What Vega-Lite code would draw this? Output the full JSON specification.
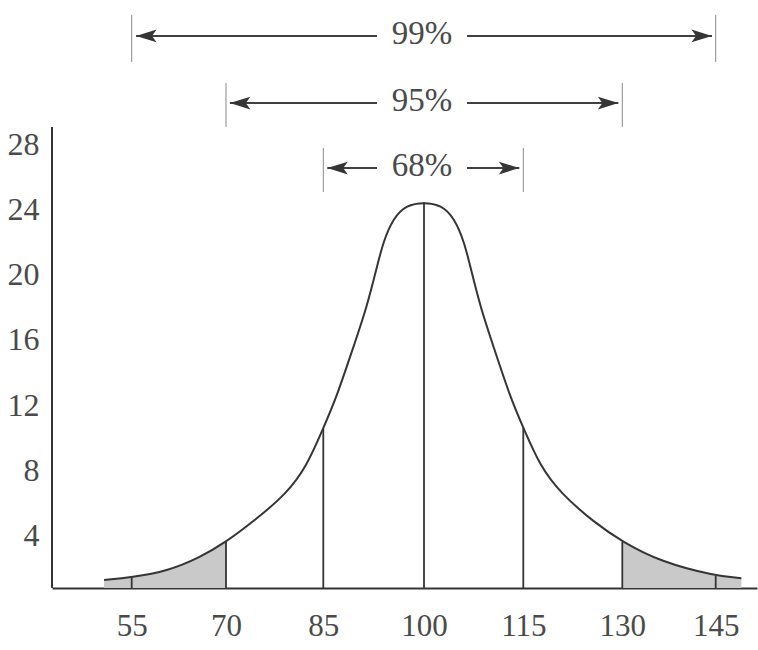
{
  "$schema": "https://vega.github.io/schema/vega-lite/v6.json",
  "width": 705,
  "height": 588,
  "autosize": {"type": "none"},
  "padding": {"left": 52, "top": 0, "right": 1, "bottom": 62},
  "background": "#ffffff",
  "config": {"view": {"stroke": null}, "font": "Liberation Serif"},
  "datasets": {
    "curve": [
      {"x": 50.6, "y": 1.23},
      {"x": 55, "y": 1.40},
      {"x": 60.6, "y": 1.76},
      {"x": 65.9, "y": 2.62},
      {"x": 70, "y": 3.57},
      {"x": 74.2, "y": 4.82},
      {"x": 79.4, "y": 6.57},
      {"x": 82.4, "y": 8.2},
      {"x": 85, "y": 10.57},
      {"x": 87.0, "y": 12.51},
      {"x": 89.5, "y": 15.59},
      {"x": 91.5, "y": 18.05},
      {"x": 93.0, "y": 20.51},
      {"x": 93.9, "y": 22.0},
      {"x": 95.4, "y": 23.49},
      {"x": 97.4, "y": 24.31},
      {"x": 100, "y": 24.47},
      {"x": 102.6, "y": 24.31},
      {"x": 104.6, "y": 23.49},
      {"x": 106.1, "y": 22.0},
      {"x": 107.0, "y": 20.51},
      {"x": 108.5, "y": 18.05},
      {"x": 110.5, "y": 15.59},
      {"x": 113.0, "y": 12.51},
      {"x": 115, "y": 10.6},
      {"x": 117.6, "y": 8.2},
      {"x": 120.6, "y": 6.6},
      {"x": 125.7, "y": 4.78},
      {"x": 130, "y": 3.59},
      {"x": 136.1, "y": 2.36},
      {"x": 145, "y": 1.48},
      {"x": 149.1, "y": 1.34}
    ],
    "cuts": [
      {"x": 55, "y": 1.40},
      {"x": 70, "y": 3.57},
      {"x": 85, "y": 10.57},
      {"x": 100, "y": 24.47},
      {"x": 115, "y": 10.6},
      {"x": 130, "y": 3.59},
      {"x": 145, "y": 1.48}
    ],
    "frame": [{"x": 42.3, "y": 29.1}],
    "spans": [
      {"x": 55, "top": 36.0, "bottom": 33.11},
      {"x": 145, "top": 36.0, "bottom": 33.11},
      {"x": 70, "top": 31.82, "bottom": 29.11},
      {"x": 130, "top": 31.82, "bottom": 29.11},
      {"x": 85, "top": 27.82, "bottom": 25.11},
      {"x": 115, "top": 27.82, "bottom": 25.11}
    ],
    "shafts": [
      {"x": 55.7, "x2": 93.0, "y": 34.71},
      {"x": 106.5, "x2": 144.4, "y": 34.71},
      {"x": 70.6, "x2": 93.0, "y": 30.58},
      {"x": 106.5, "x2": 129.4, "y": 30.58},
      {"x": 85.6, "x2": 93.0, "y": 26.58},
      {"x": 106.5, "x2": 114.4, "y": 26.58}
    ],
    "heads": [
      {"x": 55.7, "y": 34.71, "dir": "left"},
      {"x": 144.4, "y": 34.71, "dir": "right"},
      {"x": 70.6, "y": 30.58, "dir": "left"},
      {"x": 129.4, "y": 30.58, "dir": "right"},
      {"x": 85.6, "y": 26.58, "dir": "left"},
      {"x": 114.4, "y": 26.58, "dir": "right"}
    ],
    "labels": [
      {"x": 99.7, "y": 34.71, "label": "99%"},
      {"x": 99.7, "y": 30.58, "label": "95%"},
      {"x": 99.7, "y": 26.58, "label": "68%"}
    ]
  },
  "layer": [
    {
      "data": {"name": "curve"},
      "transform": [{"filter": "datum.x <= 70"}],
      "mark": {"type": "area", "interpolate": "basis", "color": "#c9c9c9"},
      "encoding": {
        "x": {
          "field": "x",
          "type": "quantitative",
          "title": null,
          "scale": {
            "domain": [42.3, 55, 70, 85, 100, 115, 130, 145, 151.6],
            "range": [0, 79.7, 174, 271.3, 372, 471.3, 570.3, 663.7, 705],
            "nice": false,
            "zero": false
          },
          "axis": {
            "values": [55, 70, 85, 100, 115, 130, 145],
            "ticks": false,
            "grid": false,
            "domainColor": "#353535",
            "domainWidth": 2,
            "labelFont": "Liberation Serif",
            "labelFontSize": 31,
            "labelColor": "#4a4a4a",
            "labelPadding": 23,
            "labelFlush": false,
            "labelOverlap": false
          }
        },
        "y": {
          "field": "y",
          "type": "quantitative",
          "title": null,
          "scale": {"domain": [0.74, 36.92], "zero": false, "nice": false},
          "axis": {
            "values": [4, 8, 12, 16, 20, 24, 28],
            "ticks": false,
            "grid": false,
            "domain": false,
            "labelFont": "Liberation Serif",
            "labelFontSize": 32,
            "labelColor": "#4a4a4a",
            "labelPadding": 13
          }
        },
        "y2": {"datum": 0.74, "type": "quantitative"}
      }
    },
    {
      "data": {"name": "curve"},
      "transform": [{"filter": "datum.x >= 130"}],
      "mark": {"type": "area", "interpolate": "basis", "color": "#c9c9c9"},
      "encoding": {
        "x": {"field": "x", "type": "quantitative", "title": null},
        "y": {"field": "y", "type": "quantitative", "title": null},
        "y2": {"datum": 0.74, "type": "quantitative"}
      }
    },
    {
      "data": {"name": "curve"},
      "mark": {"type": "line", "interpolate": "basis", "color": "#353535", "strokeWidth": 2},
      "encoding": {
        "x": {"field": "x", "type": "quantitative", "title": null},
        "y": {"field": "y", "type": "quantitative", "title": null}
      }
    },
    {
      "data": {"name": "cuts"},
      "mark": {"type": "rule", "color": "#353535", "strokeWidth": 1.8},
      "encoding": {
        "x": {"field": "x", "type": "quantitative", "title": null},
        "y": {"field": "y", "type": "quantitative", "title": null},
        "y2": {"datum": 0.74, "type": "quantitative"}
      }
    },
    {
      "data": {"name": "frame"},
      "mark": {"type": "rule", "color": "#353535", "strokeWidth": 2},
      "encoding": {
        "x": {"field": "x", "type": "quantitative", "title": null},
        "y": {"field": "y", "type": "quantitative", "title": null},
        "y2": {"datum": 0.74, "type": "quantitative"}
      }
    },
    {
      "data": {"name": "spans"},
      "mark": {"type": "rule", "color": "#8a8a8a", "strokeWidth": 1},
      "encoding": {
        "x": {"field": "x", "type": "quantitative", "title": null},
        "y": {"field": "top", "type": "quantitative", "title": null},
        "y2": {"field": "bottom"}
      }
    },
    {
      "data": {"name": "shafts"},
      "mark": {"type": "rule", "color": "#404040", "strokeWidth": 2},
      "encoding": {
        "x": {"field": "x", "type": "quantitative", "title": null},
        "x2": {"field": "x2"},
        "y": {"field": "y", "type": "quantitative", "title": null}
      }
    },
    {
      "data": {"name": "heads"},
      "mark": {"type": "point", "filled": true, "size": 420, "color": "#353535", "opacity": 1, "strokeWidth": 0},
      "encoding": {
        "x": {"field": "x", "type": "quantitative", "title": null},
        "y": {"field": "y", "type": "quantitative", "title": null},
        "shape": {
          "field": "dir",
          "type": "nominal",
          "legend": null,
          "scale": {
            "domain": ["left", "right"],
            "range": ["M 0 0 L 2 -0.62 L 1.55 0 L 2 0.62 Z", "M 0 0 L -2 -0.62 L -1.55 0 L -2 0.62 Z"]
          }
        }
      }
    },
    {
      "data": {"name": "labels"},
      "mark": {"type": "text", "font": "Liberation Serif", "fontSize": 33, "color": "#4a4a4a", "align": "center", "baseline": "middle", "dy": -2},
      "encoding": {
        "x": {"field": "x", "type": "quantitative", "title": null},
        "y": {"field": "y", "type": "quantitative", "title": null},
        "text": {"field": "label"}
      }
    }
  ]
}
